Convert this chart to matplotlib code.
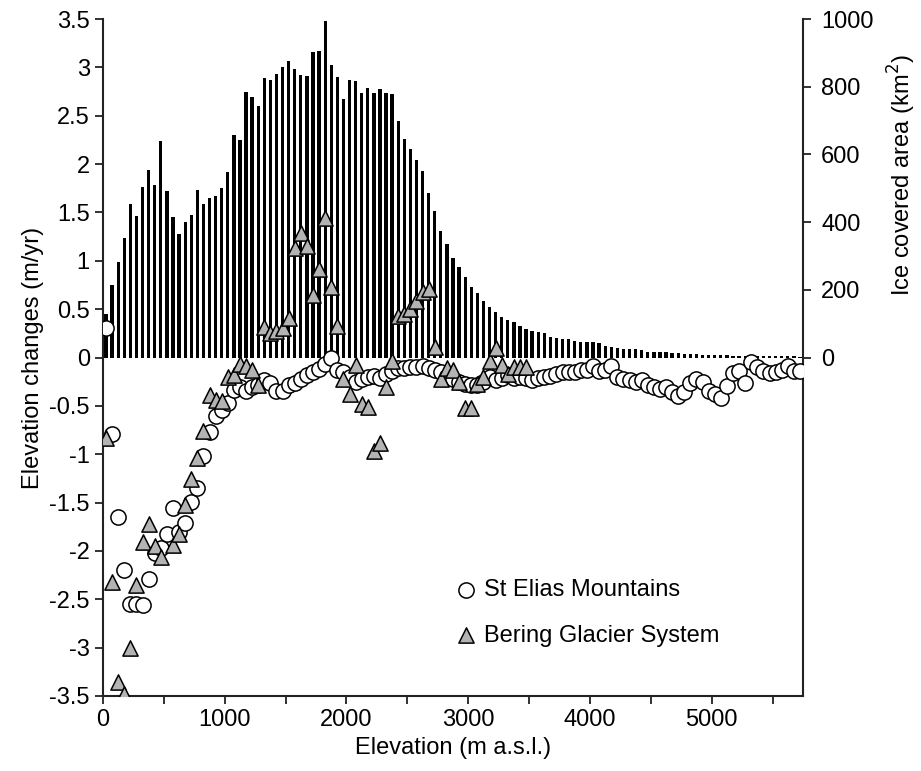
import numpy as np
import matplotlib
matplotlib.use("Agg")
import matplotlib.pyplot as plt
from matplotlib.ticker import MultipleLocator, FixedLocator

plt.rcParams['font.family'] = ['Liberation Sans', 'DejaVu Sans']

# elevation bin centres (50 m bins)
elevation = np.arange(25, 5750, 50)

# Ice covered area per bin (km2)
area = [128, 213, 283, 354, 453, 418, 503, 554, 509, 641,
        492, 415, 366, 399, 420, 494, 452, 472, 477, 500,
        548, 656, 643, 783, 769, 742, 827, 820, 837, 858,
        877, 853, 835, 833, 902, 906, 995, 863, 828, 763,
        821, 816, 782, 796, 782, 793, 780, 778, 700, 646,
        615,
        584, 550, 485, 432, 374, 336, 295, 266, 239, 207,
        192, 167, 149, 135, 120, 111, 105, 93, 84, 78,
        74, 71, 61, 57, 55, 54, 50, 47, 45, 45,
        43, 33, 30, 28, 26, 24, 24, 23, 17, 17,
        16, 15, 13, 12, 11, 10, 9, 8, 8, 7,
        6, 6, 5, 5, 5, 4, 4, 4, 3, 3, 3, 3, 3, 2]

# St Elias Mountains elevation change (m/yr)
st_elias = [0.31, -0.79, -1.65, -2.20, -2.55, -2.55, -2.56, -2.29, -2.02, -1.97,
            -1.82, -1.56, -1.80, -1.71, -1.49, -1.35, -1.02, -0.77, -0.60, -0.54,
            -0.47, -0.34, -0.30, -0.35, -0.31, -0.28, -0.23, -0.26, -0.35, -0.35,
            -0.28, -0.26, -0.22, -0.18, -0.155, -0.12, -0.07, -0.01, -0.13, -0.155,
            -0.20, -0.25, -0.22, -0.20, -0.19, -0.21, -0.17, -0.14, -0.11, -0.11,
            -0.10, -0.10, -0.09, -0.11, -0.13, -0.15, -0.20, -0.22, -0.25, -0.27,
            -0.28, -0.28, -0.25, -0.20, -0.23, -0.21, -0.18, -0.21, -0.20, -0.21,
            -0.23, -0.21, -0.20, -0.19, -0.17, -0.145, -0.15, -0.15, -0.13, -0.13,
            -0.09, -0.14, -0.13, -0.09, -0.20, -0.22, -0.23, -0.25, -0.23, -0.28,
            -0.31, -0.33, -0.31, -0.36, -0.40, -0.36, -0.26, -0.22, -0.25, -0.35,
            -0.38, -0.42, -0.29, -0.16, -0.14, -0.26, -0.05, -0.10, -0.14, -0.16,
            -0.15, -0.13, -0.09, -0.14, -0.14]

# Bering Glacier System elevation change (m/yr), bins 25..3475
bering_elev = np.arange(25, 3500, 50)
bering = [-0.83, -2.32, -3.36, -3.48, -3.00, -2.35, -1.91, -1.72, -1.95, -2.06,
          np.nan, -1.94, -1.83, -1.53, -1.26, -1.04, -0.76, -0.39, -0.44, -0.45,
          -0.20, -0.18, -0.065, -0.09, -0.13, -0.28, 0.32, 0.25, 0.27, 0.31,
          0.41, 1.13, 1.29, 1.15, 0.65, 0.91, 1.44, 0.73, 0.33, -0.22,
          -0.375, -0.08, -0.48, -0.51, -0.97, -0.88, -0.30, -0.04, 0.43, 0.45,
          0.50, 0.58, 0.68, 0.71, 0.11, -0.22, -0.11, -0.13, -0.25, -0.52,
          -0.52, -0.27, -0.20, -0.04, 0.10, -0.08, -0.17, -0.10, -0.10, -0.10]

fig = plt.figure(figsize=(9.21, 7.71), dpi=100)
ax = fig.add_axes([103/921, 1-696/771, 700/921, 677/771])
ax2 = ax.twinx()

spine_c = '#222222'
fs = 17

# bars on the area axis
ax2.bar(elevation, area, width=27, color='black', edgecolor='none', zorder=1)
ax2.set_ylim(-1000, 1000)
ax2.yaxis.set_major_locator(FixedLocator([0, 200, 400, 600, 800, 1000]))
ax2.set_ylabel('Ice covered area (km$^2$)', fontsize=fs)
ax2.yaxis.set_label_coords(1.118, 0.77)

# put scatter axis on top of bars
ax.set_zorder(ax2.get_zorder() + 1)
ax.patch.set_visible(False)

ax.scatter(elevation, st_elias, s=120, marker='o', facecolor='white',
           edgecolor='black', linewidths=1.1, zorder=3, label='St Elias Mountains')
ax.scatter(bering_elev, bering, s=120, marker='^', facecolor='#b3b3b3',
           edgecolor='black', linewidths=1.1, zorder=4, label='Bering Glacier System')

ax.set_xlim(0, 5750)
ax.set_ylim(-3.5, 3.5)
ax.set_yticks(np.arange(-3.5, 3.51, 0.5))
ax.set_yticklabels(['%g' % v for v in np.arange(-3.5, 3.51, 0.5)])
ax.xaxis.set_major_locator(MultipleLocator(1000))
ax.xaxis.set_minor_locator(MultipleLocator(500))

ax.set_xlabel('Elevation (m a.s.l.)', fontsize=fs)
ax.set_ylabel('Elevation changes (m/yr)', fontsize=fs)

for a in (ax, ax2):
    for s in a.spines.values():
        s.set_color(spine_c)
        s.set_linewidth(1.5)
    a.spines['top'].set_visible(False)
ax.spines['right'].set_visible(False)
ax2.spines['left'].set_visible(False)
ax2.spines['bottom'].set_visible(False)

ax.tick_params(axis='both', which='both', direction='out', length=6, width=1.3,
               color=spine_c, labelsize=fs)
ax2.tick_params(axis='y', direction='out', length=6, width=1.3, color=spine_c,
                labelsize=fs, pad=7)

leg = ax.legend(loc='center left', bbox_to_anchor=(0.505, 0.123), frameon=False,
                fontsize=fs, handlelength=0.8, handletextpad=0.35,
                labelspacing=1.0, borderpad=0, borderaxespad=0)

fig.savefig('out.png', dpi=100)
